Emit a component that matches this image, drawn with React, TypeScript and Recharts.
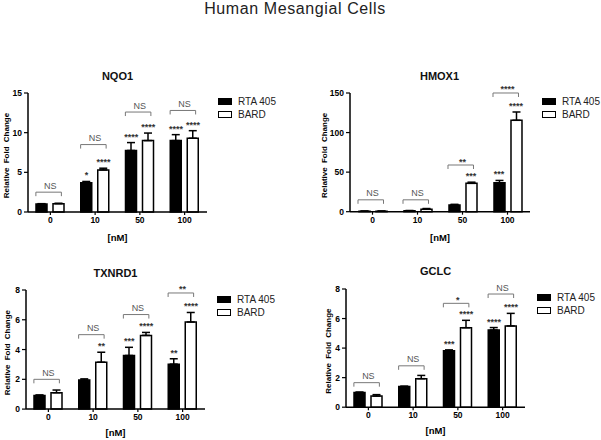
import React from 'react';
import { ComposedChart, Bar, Line, XAxis, YAxis, ErrorBar } from 'recharts';

const doses = ['0', '10', '50', '100'];

// NQO1
const nqo1Rta = [1.0, 3.7, 7.75, 9.0];
const nqo1RtaErr = [0.05, 0.15, 1.0, 0.75];
const nqo1Bard = [1.05, 5.3, 9.0, 9.3];
const nqo1BardErr = [0.05, 0.22, 0.95, 0.95];
const nqo1RtaStars = ['', '*', '****', '****'];
const nqo1BardStars = ['', '****', '****', '****'];
const nqo1Bracket = [2.5, 8.5, 12.6, 12.8];
const nqo1BracketLabels = ['NS', 'NS', 'NS', 'NS'];
const nqo1Ticks = [0, 5, 10, 15];

// HMOX1
const hmox1Rta = [0.6, 1.2, 8.5, 36.5];
const hmox1RtaErr = [0.2, 0.3, 0.8, 3.0];
const hmox1Bard = [0.6, 3.0, 35.8, 115.5];
const hmox1BardErr = [0.2, 1.0, 1.5, 10.5];
const hmox1RtaStars = ['', '', '', '***'];
const hmox1BardStars = ['', '', '***', '****'];
const hmox1Bracket = [15, 15, 59, 150];
const hmox1BracketLabels = ['NS', 'NS', '**', '****'];
const hmox1Ticks = [0, 50, 100, 150];

// TXNRD1
const txnrd1Rta = [0.92, 1.95, 3.6, 3.02];
const txnrd1RtaErr = [0.03, 0.08, 0.55, 0.36];
const txnrd1Bard = [1.1, 3.15, 4.95, 5.85];
const txnrd1BardErr = [0.18, 0.67, 0.2, 0.64];
const txnrd1RtaStars = ['', '', '***', '**'];
const txnrd1BardStars = ['', '**', '****', '****'];
const txnrd1Bracket = [2.0, 5.0, 6.35, 7.8];
const txnrd1BracketLabels = ['NS', 'NS', 'NS', '**'];
const txnrd1Ticks = [0, 2, 4, 6, 8];

// GCLC
const gclcRta = [1.0, 1.4, 3.82, 5.22];
const gclcRtaErr = [0.02, 0.02, 0.06, 0.17];
const gclcBard = [0.75, 1.93, 5.38, 5.5];
const gclcBardErr = [0.1, 0.22, 0.5, 0.85];
const gclcRtaStars = ['', '', '***', '****'];
const gclcBardStars = ['', '', '****', '****'];
const gclcBracket = [1.66, 2.8, 7.03, 7.66];
const gclcBracketLabels = ['NS', 'NS', '*', 'NS'];
const gclcTicks = [0, 2, 4, 6, 8];

const FONT = 'Arial, "Liberation Sans", Helvetica, sans-serif';

const genes = [
  { name: 'NQO1', rta: nqo1Rta, rtaErr: nqo1RtaErr, bard: nqo1Bard, bardErr: nqo1BardErr, rtaStars: nqo1RtaStars, bardStars: nqo1BardStars, bracket: nqo1Bracket, bracketLabels: nqo1BracketLabels, ticks: nqo1Ticks },
  { name: 'HMOX1', rta: hmox1Rta, rtaErr: hmox1RtaErr, bard: hmox1Bard, bardErr: hmox1BardErr, rtaStars: hmox1RtaStars, bardStars: hmox1BardStars, bracket: hmox1Bracket, bracketLabels: hmox1BracketLabels, ticks: hmox1Ticks },
  { name: 'TXNRD1', rta: txnrd1Rta, rtaErr: txnrd1RtaErr, bard: txnrd1Bard, bardErr: txnrd1BardErr, rtaStars: txnrd1RtaStars, bardStars: txnrd1BardStars, bracket: txnrd1Bracket, bracketLabels: txnrd1BracketLabels, ticks: txnrd1Ticks },
  { name: 'GCLC', rta: gclcRta, rtaErr: gclcRtaErr, bard: gclcBard, bardErr: gclcBardErr, rtaStars: gclcRtaStars, bardStars: gclcBardStars, bracket: gclcBracket, bracketLabels: gclcBracketLabels, ticks: gclcTicks },
];

// plot box of each panel in page pixels
const layouts = [
  { x: 28, y: 93.3, w: 179, h: 119, yGap: 21.7, xLabelDy: 29, titleY: 76, legendX: 218, legendY: 101.5 },
  { x: 349.5, y: 93.3, w: 180, h: 118.7, yGap: 25.5, xLabelDy: 29, titleY: 76, legendX: 542, legendY: 101 },
  { x: 26, y: 290.2, w: 179, h: 119.1, yGap: 18.7, xLabelDy: 27, titleY: 273, legendX: 217, legendY: 299.5 },
  { x: 346, y: 288.5, w: 179, h: 118.2, yGap: 17.5, xLabelDy: 27, titleY: 271, legendX: 537, legendY: 297 },
];

const BAR_OFFSET = 8.5;

const buildRows = (g) =>
  doses.map((d, i) => ({
    dose: d,
    rta: g.rta[i],
    bard: g.bard[i],
    rtaErr: [0, g.rtaErr[i]],
    bardErr: [0, g.bardErr[i]],
    rtaTop: g.rta[i] + g.rtaErr[i],
    bardTop: g.bard[i] + g.bardErr[i],
    bracket: g.bracket[i],
  }));

const starDot = (labels, dx) => (props) => {
  const { cx, cy, index } = props;
  const label = labels[index];
  if (!label || cx == null || cy == null) return <g key={`s-${index}`} />;
  return (
    <text key={`s-${index}`} x={cx + dx} y={cy - 3} textAnchor="middle" fontSize={9} fontWeight="bold" fill="#333" fontFamily={FONT}>
      {label}
    </text>
  );
};

const bracketDot = (labels) => (props) => {
  const { cx, cy, index } = props;
  if (cx == null || cy == null) return <g key={`b-${index}`} />;
  const label = labels[index];
  const isStar = label.includes('*');
  return (
    <g key={`b-${index}`}>
      <path d={`M${cx - 14.5},${cy + 4}V${cy}H${cx + 11}V${cy + 4}`} fill="none" stroke="#777" strokeWidth={1} />
      <text x={cx} y={isStar ? cy - 0.5 : cy - 3.5} textAnchor="middle" fontSize={9} fontWeight={isStar ? 'bold' : 'normal'} fill={isStar ? '#333' : '#555'} fontFamily={FONT}>
        {label}
      </text>
    </g>
  );
};

const Panel = ({ gene, layout }) => {
  const rows = buildRows(gene);
  const yMax = gene.ticks[gene.ticks.length - 1];
  const tickStyle = { fontSize: 8.5, fontWeight: 'bold', fill: '#000', fontFamily: FONT };

  const yLabel = (props) => {
    const vb = props.viewBox;
    const lx = vb.x + vb.width - layout.yGap;
    const ly = vb.y + vb.height / 2 + 3;
    return (
      <text x={lx} y={ly} transform={`rotate(-90, ${lx}, ${ly})`} textAnchor="middle" dominantBaseline="central" fontSize={8} fontWeight="bold" fill="#000" fontFamily={FONT} style={{ wordSpacing: 2 }}>
        Relative Fold Change
      </text>
    );
  };

  const xLabel = (props) => {
    const vb = props.viewBox;
    return (
      <text x={vb.x + vb.width / 2} y={vb.y + layout.xLabelDy} textAnchor="middle" fontSize={9.5} fontWeight="bold" fill="#000" fontFamily={FONT}>
        [nM]
      </text>
    );
  };

  return (
    <>
      <div style={{ position: 'absolute', left: layout.x + layout.w / 2 - 60, width: 120, top: layout.titleY - 5.4, textAlign: 'center', fontFamily: FONT, fontWeight: 'bold', fontSize: 11, lineHeight: '11px', color: '#111' }}>
        {gene.name}
      </div>
      <div style={{ position: 'absolute', left: layout.x - 40, top: layout.y - 30 }}>
        <ComposedChart width={layout.w + 45} height={layout.h + 62} data={rows} margin={{ top: 30, right: 5, bottom: 4, left: 10 }} barSize={11} barGap={6}>
          <XAxis dataKey="dose" height={28} tickSize={3} tickMargin={2} tick={tickStyle} axisLine={{ stroke: '#000', strokeWidth: 1.5 }} tickLine={{ stroke: '#000', strokeWidth: 1.2 }} label={xLabel} />
          <YAxis type="number" width={30} domain={[0, yMax]} ticks={gene.ticks} interval={0} tickSize={4} tickMargin={2} tick={tickStyle} axisLine={{ stroke: '#000', strokeWidth: 1.5 }} tickLine={{ stroke: '#000', strokeWidth: 1.2 }} label={yLabel} />
          <Bar dataKey="rta" name="RTA 405" fill="#000" stroke="#000" strokeWidth={1.5} isAnimationActive={false}>
            <ErrorBar dataKey="rtaErr" direction="y" width={4} stroke="#000" strokeWidth={1.5} />
          </Bar>
          <Bar dataKey="bard" name="BARD" fill="#fff" stroke="#000" strokeWidth={1.5} isAnimationActive={false}>
            <ErrorBar dataKey="bardErr" direction="y" width={4} stroke="#000" strokeWidth={1.5} />
          </Bar>
          <Line dataKey="rtaTop" stroke="none" legendType="none" activeDot={false} isAnimationActive={false} dot={starDot(gene.rtaStars, -BAR_OFFSET)} />
          <Line dataKey="bardTop" stroke="none" legendType="none" activeDot={false} isAnimationActive={false} dot={starDot(gene.bardStars, BAR_OFFSET)} />
          <Line dataKey="bracket" stroke="none" legendType="none" activeDot={false} isAnimationActive={false} dot={bracketDot(gene.bracketLabels)} />
        </ComposedChart>
      </div>
      {[
        { label: 'RTA 405', fill: '#000' },
        { label: 'BARD', fill: '#fff' },
      ].map((item, i) => (
        <div key={item.label} style={{ position: 'absolute', left: layout.legendX, top: layout.legendY + i * 13 - 6, height: 12, display: 'flex', alignItems: 'center', fontFamily: FONT, fontSize: 10, color: '#222', whiteSpace: 'nowrap' }}>
          <div style={{ width: 12, height: 5, background: item.fill, border: '1.5px solid #000', marginRight: 6 }} />
          {item.label}
        </div>
      ))}
    </>
  );
};

export default function App() {
  return (
    <div style={{ position: 'absolute', left: 0, top: 0, width: 601, height: 440, background: '#fff', overflow: 'hidden' }}>
      <div style={{ position: 'absolute', left: 145, width: 300, top: 1, textAlign: 'center', fontFamily: FONT, fontSize: 16, lineHeight: '16px', letterSpacing: 0.6, color: '#222' }}>
        Human Mesangial Cells
      </div>
      {genes.map((g, i) => (
        <Panel key={g.name} gene={g} layout={layouts[i]} />
      ))}
    </div>
  );
}
